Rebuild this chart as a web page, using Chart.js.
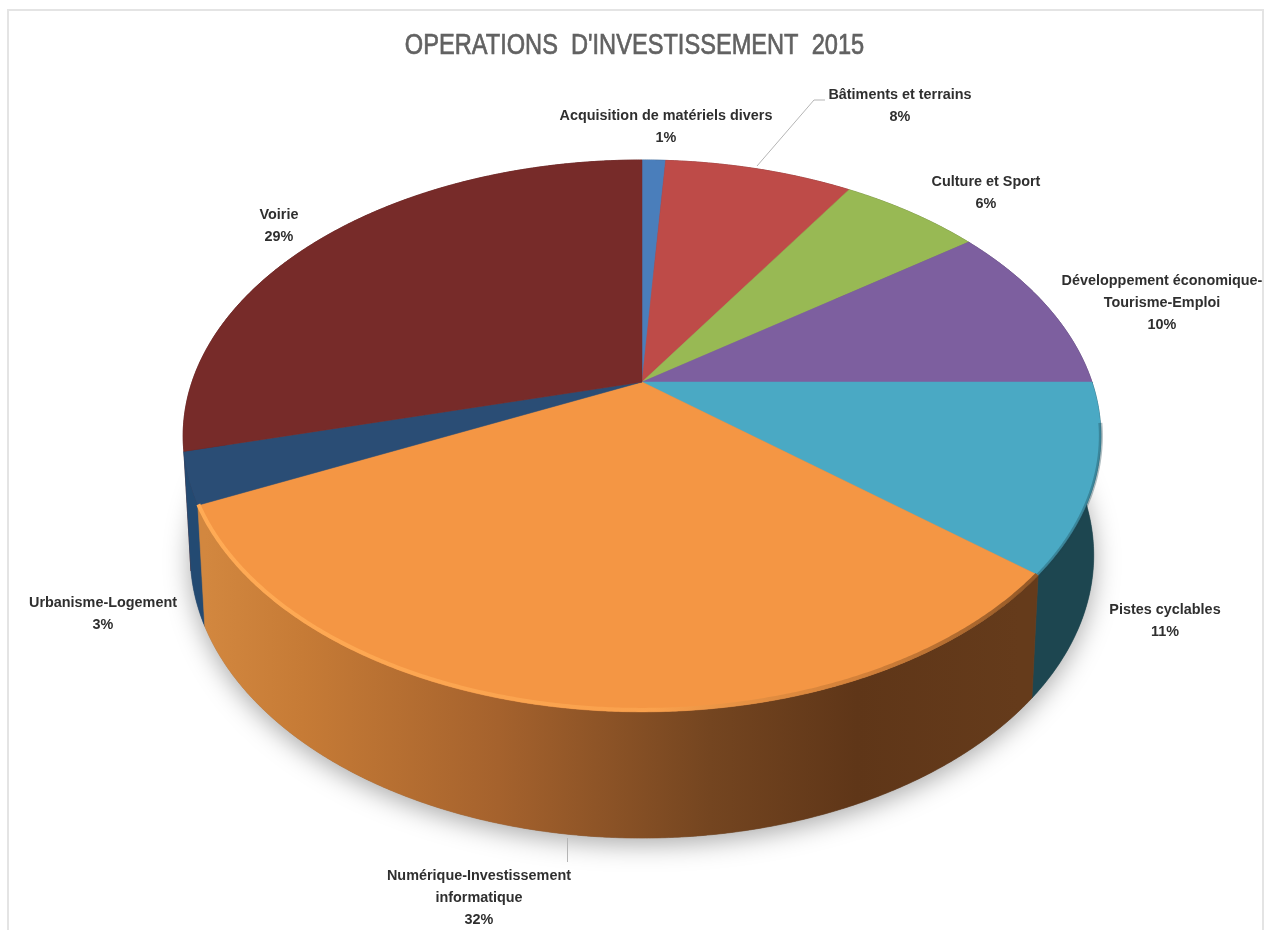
<!DOCTYPE html>
<html lang="fr">
<head>
<meta charset="utf-8">
<title>Opérations d'investissement 2015</title>
<script src="https://cdn.jsdelivr.net/npm/chart.js@4/dist/chart.umd.min.js"></script>
<style>
    html, body { margin: 0; height: 100%; overflow: hidden; background: #fff; }
    #frame { position: absolute; left: 7px; top: 9px; width: 1253px; height: 930px; border: 2px solid #e4e4e4; border-bottom: none; }
    #pie { position: absolute; left: 0; top: 0; }
</style>
</head>
<body>
<div id="frame"></div>
<canvas id="pie" width="1265" height="930"></canvas>
<script>
// Investment budget split, in percent
const chartTitle = "OPERATIONS  D'INVESTISSEMENT  2015";
const categories = [
    'Acquisition de matériels divers',
    'Bâtiments et terrains',
    'Culture et Sport',
    'Développement économique-Tourisme-Emploi',
    'Pistes cyclables',
    'Numérique-Investissement informatique',
    'Urbanisme-Logement',
    'Voirie'
];
const shares = [1, 8, 6, 10, 11, 32, 3, 29];

// Slice colours: top face, then the darker wall under it
const topColors = ['#4a7ebb', '#be4b48', '#98b954', '#7d5f9f', '#4aa9c4', '#f49644', '#2a4d75', '#772b29'];
const wallColors = ['#2e4f76', '#772f2d', '#60743a', '#4e3b64', '#1d4650', '#000', '#234a72', '#5a1f1e'];

// Label text broken over lines, with the anchor of each block (centre x, first baseline)
const labelLines = [
    ['Acquisition de matériels divers'],
    ['Bâtiments et terrains'],
    ['Culture et Sport'],
    ['Développement économique-', 'Tourisme-Emploi'],
    ['Pistes cyclables'],
    ['Numérique-Investissement', 'informatique'],
    ['Urbanisme-Logement'],
    ['Voirie']
];
const labelAnchors = [[666, 120], [900, 99], [986, 186], [1162, 285], [1165, 614], [479, 880], [103, 607], [279, 219]];

// Projection of the tilted disc: perspective factor and the two faces
const TILT = 0.1955;
const TOP_FACE = { cx: 642, cy: 382, rx: 450, ry: 265.4 };
const BOTTOM_FACE = { cx: 642, cy: 500, rx: 443, ry: 272 };
const LABEL_FONT = 'bold 15px "Liberation Sans", sans-serif';
const TITLE_FONT = '30px "Liberation Sans", sans-serif';

function project(face, angle) {
    const u = Math.cos(angle);
    const v = Math.sin(angle);
    const w = 1 - TILT * v;
    return { x: face.cx + face.rx * u / w, y: face.cy + face.ry * v / w };
}

function arcPoints(face, start, end) {
    const steps = Math.max(2, Math.ceil((end - start) / 0.006));
    const pts = [];
    for (let i = 0; i <= steps; i++) {
        pts.push(project(face, start + (end - start) * i / steps));
    }
    return pts;
}

function tracePolygon(ctx, pts) {
    ctx.beginPath();
    pts.forEach((p, i) => (i ? ctx.lineTo(p.x, p.y) : ctx.moveTo(p.x, p.y)));
    ctx.closePath();
}

function traceLine(ctx, pts, dy) {
    ctx.beginPath();
    pts.forEach((p, i) => (i ? ctx.lineTo(p.x, p.y + dy) : ctx.moveTo(p.x, p.y + dy)));
}

// Horizontal shading along the orange wall
function orangeWallFill(ctx) {
    const g = ctx.createLinearGradient(205, 0, 1020, 0);
    g.addColorStop(0, '#d2873f');
    g.addColorStop(0.12, '#c67b36');
    g.addColorStop(0.36, '#a5622d');
    g.addColorStop(0.62, '#744520');
    g.addColorStop(0.8, '#5f3618');
    g.addColorStop(1, '#653b1b');
    return g;
}

// Text squeezed horizontally, there is no condensed face to use
function drawSqueezed(ctx, text, x, y, squeeze, outline) {
    ctx.save();
    ctx.translate(x, y);
    ctx.scale(squeeze, 1);
    ctx.fillText(text, 0, 0);
    if (outline) {
        ctx.lineWidth = outline;
        ctx.strokeText(text, 0, 0);
    }
    ctx.restore();
}

const perspectivePie = {
    id: 'perspectivePie',
    beforeDatasetsDraw(chart) {
        const ctx = chart.ctx;
        const arcs = chart.getDatasetMeta(0).data;

        // Soft ground shadow
        ctx.save();
        ctx.shadowColor = 'rgba(0, 0, 0, 0.34)';
        ctx.shadowBlur = 26;
        ctx.shadowOffsetY = 6;
        ctx.fillStyle = '#777';
        tracePolygon(ctx, arcPoints(BOTTOM_FACE, 0, Math.PI * 2));
        ctx.fill();
        ctx.restore();

        // Walls, back to front so the big orange slice ends up on top
        const order = arcs.map((a, i) => i).sort((a, b) => {
            const mid = i => Math.sin((arcs[i].startAngle + arcs[i].endAngle) / 2);
            return mid(a) - mid(b);
        });
        order.forEach(i => {
            const top = arcPoints(TOP_FACE, arcs[i].startAngle, arcs[i].endAngle);
            const bottom = arcPoints(BOTTOM_FACE, arcs[i].startAngle, arcs[i].endAngle).reverse();
            const fill = i === 5 ? orangeWallFill(ctx) : wallColors[i];
            tracePolygon(ctx, top.concat(bottom));
            ctx.fillStyle = fill;
            ctx.strokeStyle = fill;
            ctx.lineWidth = 0.6;
            ctx.fill();
            ctx.stroke();
        });

        // Top faces
        arcs.forEach((arc, i) => {
            const pts = arcPoints(TOP_FACE, arc.startAngle, arc.endAngle);
            pts.unshift({ x: TOP_FACE.cx, y: TOP_FACE.cy });
            tracePolygon(ctx, pts);
            ctx.fillStyle = topColors[i];
            ctx.strokeStyle = topColors[i];
            ctx.lineWidth = 0.5;
            ctx.fill();
            ctx.stroke();
        });

        // Darker soft edge on the teal slice
        traceLine(ctx, arcPoints(TOP_FACE, arcs[4].startAngle + 0.15, arcs[4].endAngle), 0);
        ctx.strokeStyle = 'rgba(29, 70, 80, 0.35)';
        ctx.lineWidth = 4;
        ctx.stroke();

        // Lighter bevel along the front edge of the orange slice
        const rimFill = ctx.createLinearGradient(200, 0, 1025, 0);
        rimFill.addColorStop(0, 'rgba(255, 171, 85, 1)');
        rimFill.addColorStop(0.55, 'rgba(251, 164, 79, 0.8)');
        rimFill.addColorStop(0.8, 'rgba(190, 115, 50, 0.6)');
        rimFill.addColorStop(1, 'rgba(110, 65, 28, 0.7)');
        traceLine(ctx, arcPoints(TOP_FACE, arcs[5].startAngle + 0.004, arcs[5].endAngle - 0.004), -2);
        ctx.strokeStyle = rimFill;
        ctx.lineWidth = 4;
        ctx.stroke();

        return false;
    },
    afterDraw(chart) {
        const ctx = chart.ctx;
        ctx.save();
        ctx.textAlign = 'center';

        // Title
        ctx.font = TITLE_FONT;
        ctx.fillStyle = '#626262';
        ctx.strokeStyle = '#626262';
        drawSqueezed(ctx, chartTitle, 634.5, 54, 0.787, 0.7);

        // Leader lines
        ctx.strokeStyle = '#b5b5b5';
        ctx.lineWidth = 1;
        ctx.beginPath();
        ctx.moveTo(757, 166);
        ctx.lineTo(814, 100);
        ctx.lineTo(825, 100);
        ctx.moveTo(567.5, 838);
        ctx.lineTo(567.5, 862);
        ctx.stroke();

        // Slice labels
        ctx.font = LABEL_FONT;
        ctx.fillStyle = '#2f2f2f';
        labelLines.forEach((lines, i) => {
            const [x, y] = labelAnchors[i];
            lines.concat(shares[i] + '%').forEach((line, n) => {
                drawSqueezed(ctx, line, x, y + n * 22, 0.96);
            });
        });
        ctx.restore();
    }
};

new Chart(document.getElementById('pie'), {
    type: 'pie',
    data: {
        labels: categories,
        datasets: [{ data: shares, backgroundColor: topColors, borderWidth: 0 }]
    },
    options: {
        responsive: false,
        animation: false,
        plugins: {
            legend: { display: false },
            tooltip: { enabled: false },
            title: { display: false }
        }
    },
    plugins: [perspectivePie]
});
</script>
</body>
</html>
